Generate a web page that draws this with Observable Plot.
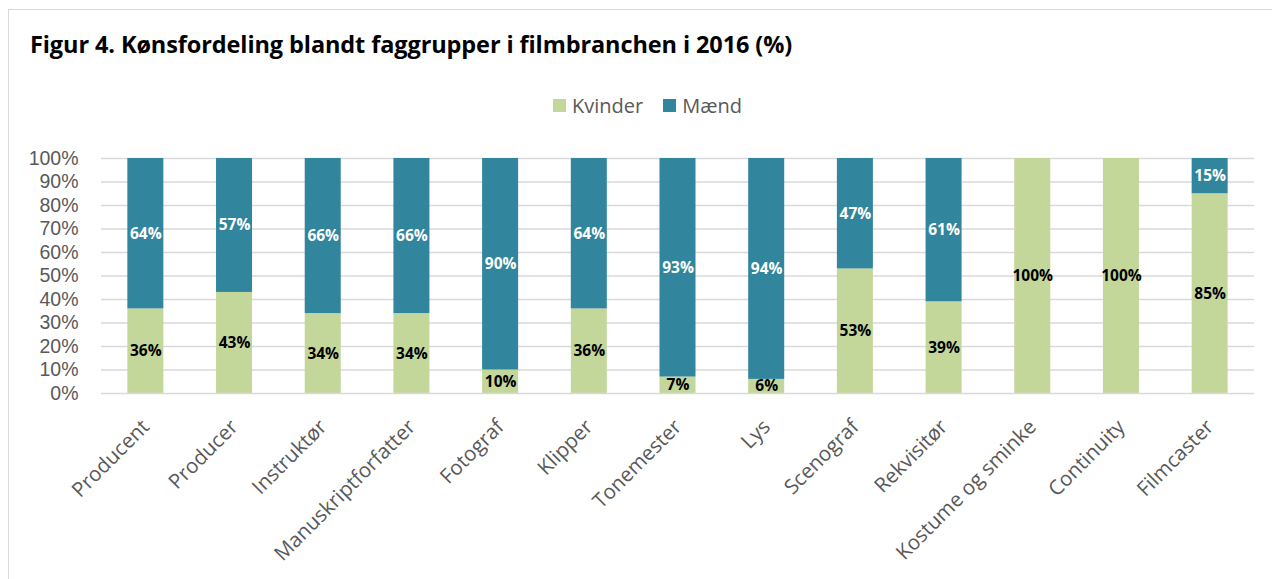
<!DOCTYPE html>
<html>
<head>
<meta charset="utf-8">
<script src="https://cdn.jsdelivr.net/npm/d3@7"></script>
<script src="https://cdn.jsdelivr.net/npm/@observablehq/plot@0.6"></script>
<style>
  html, body { margin: 0; padding: 0; background: #fff; overflow: hidden; width: 1272px; height: 579px; }
  #frame { position: absolute; left: 8px; top: 9px; width: 1300px; height: 620px; border: 1.5px solid #d9d9d9; box-sizing: border-box; }
  #title { position: absolute; left: 30px; top: 28px; font-family: "Open Sans", sans-serif; font-weight: 700; font-size: 23.5px; letter-spacing: -0.1px; color: #000; white-space: nowrap; }
  #legend { position: absolute; left: 553px; top: 92px; font-family: "Open Sans", sans-serif; font-size: 20px; color: #595959; display: flex; align-items: center; white-space: nowrap; }
  #legend .sw { display: inline-block; width: 13px; height: 13px; margin-right: 6px; }
  #legend .item { display: flex; align-items: center; margin-right: 20px; }
  #chart { position: absolute; left: 0; top: 130px; }
</style>
</head>
<body>
<div id="frame"></div>
<div id="title">Figur 4. Kønsfordeling blandt faggrupper i filmbranchen i 2016 (%)</div>
<div id="legend"></div>
<div id="chart"></div>
<script>
const categories = ["Producent","Producer","Instruktør","Manuskriptforfatter","Fotograf","Klipper","Tonemester","Lys","Scenograf","Rekvisitør","Kostume og sminke","Continuity","Filmcaster"];
const kvinder = [36,43,34,34,10,36,7,6,53,39,100,100,85];
const maend   = [64,57,66,66,90,64,93,94,47,61,0,0,15];
const seriesNames = ["Kvinder","Mænd"];
const seriesColors = ["#c4d79b","#31859c"];
const yTicks = [0,10,20,30,40,50,60,70,80,90,100];

const data = [];
categories.forEach((c,i) => data.push({cat:c, sex:"Kvinder", value:kvinder[i]}));
categories.forEach((c,i) => data.push({cat:c, sex:"Mænd", value:maend[i]}));

const legend = document.getElementById("legend");
seriesNames.forEach((n,i) => {
  const it = document.createElement("div");
  it.className = "item";
  it.innerHTML = `<span class="sw" style="background:${seriesColors[i]}"></span><span>${n}</span>`;
  legend.appendChild(it);
});

const chart = Plot.plot({
  width: 1272,
  height: 449,
  marginLeft: 101,
  marginRight: 18,
  marginTop: 28,
  marginBottom: 186,
  style: { fontFamily: "'Open Sans', sans-serif", background: "transparent" },
  x: { domain: categories, paddingInner: 0.594, paddingOuter: 0.297, round: false, label: null },
  y: { domain: [0,100], label: null },
  color: { domain: seriesNames, range: seriesColors },
  marks: [
    Plot.ruleY(yTicks.filter(d => d > 0), { stroke: "#d9d9d9", strokeWidth: 1.5 }),
    Plot.barY(data, Plot.stackY({ x: "cat", y: "value", fill: "sex" })),
    Plot.ruleY([0], { stroke: "#d9d9d9", strokeWidth: 1.5 }),
    Plot.axisY({ ticks: yTicks, tickFormat: d => d + "%", tickSize: 0, tickPadding: 23, fontSize: 19.5, fontFamily: "'Liberation Sans', Arial, sans-serif", fill: "#595959", label: null }),
    Plot.axisX({ tickSize: 0, tickPadding: 30, dx: 0, tickRotate: -45, fontSize: 20.5, fill: "#595959", label: null }),
    Plot.text(data, Plot.stackY({
      x: "cat", y: "value", z: "sex",
      text: d => d.value > 0 ? d.value + "%" : "",
      fill: d => d.sex === "Kvinder" ? "#000" : "#fff",
      fontWeight: "bold", fontSize: 15.5, fontFamily: "'Open Sans', sans-serif"
    }))
  ]
});
document.getElementById("chart").appendChild(chart);
</script>
</body>
</html>
